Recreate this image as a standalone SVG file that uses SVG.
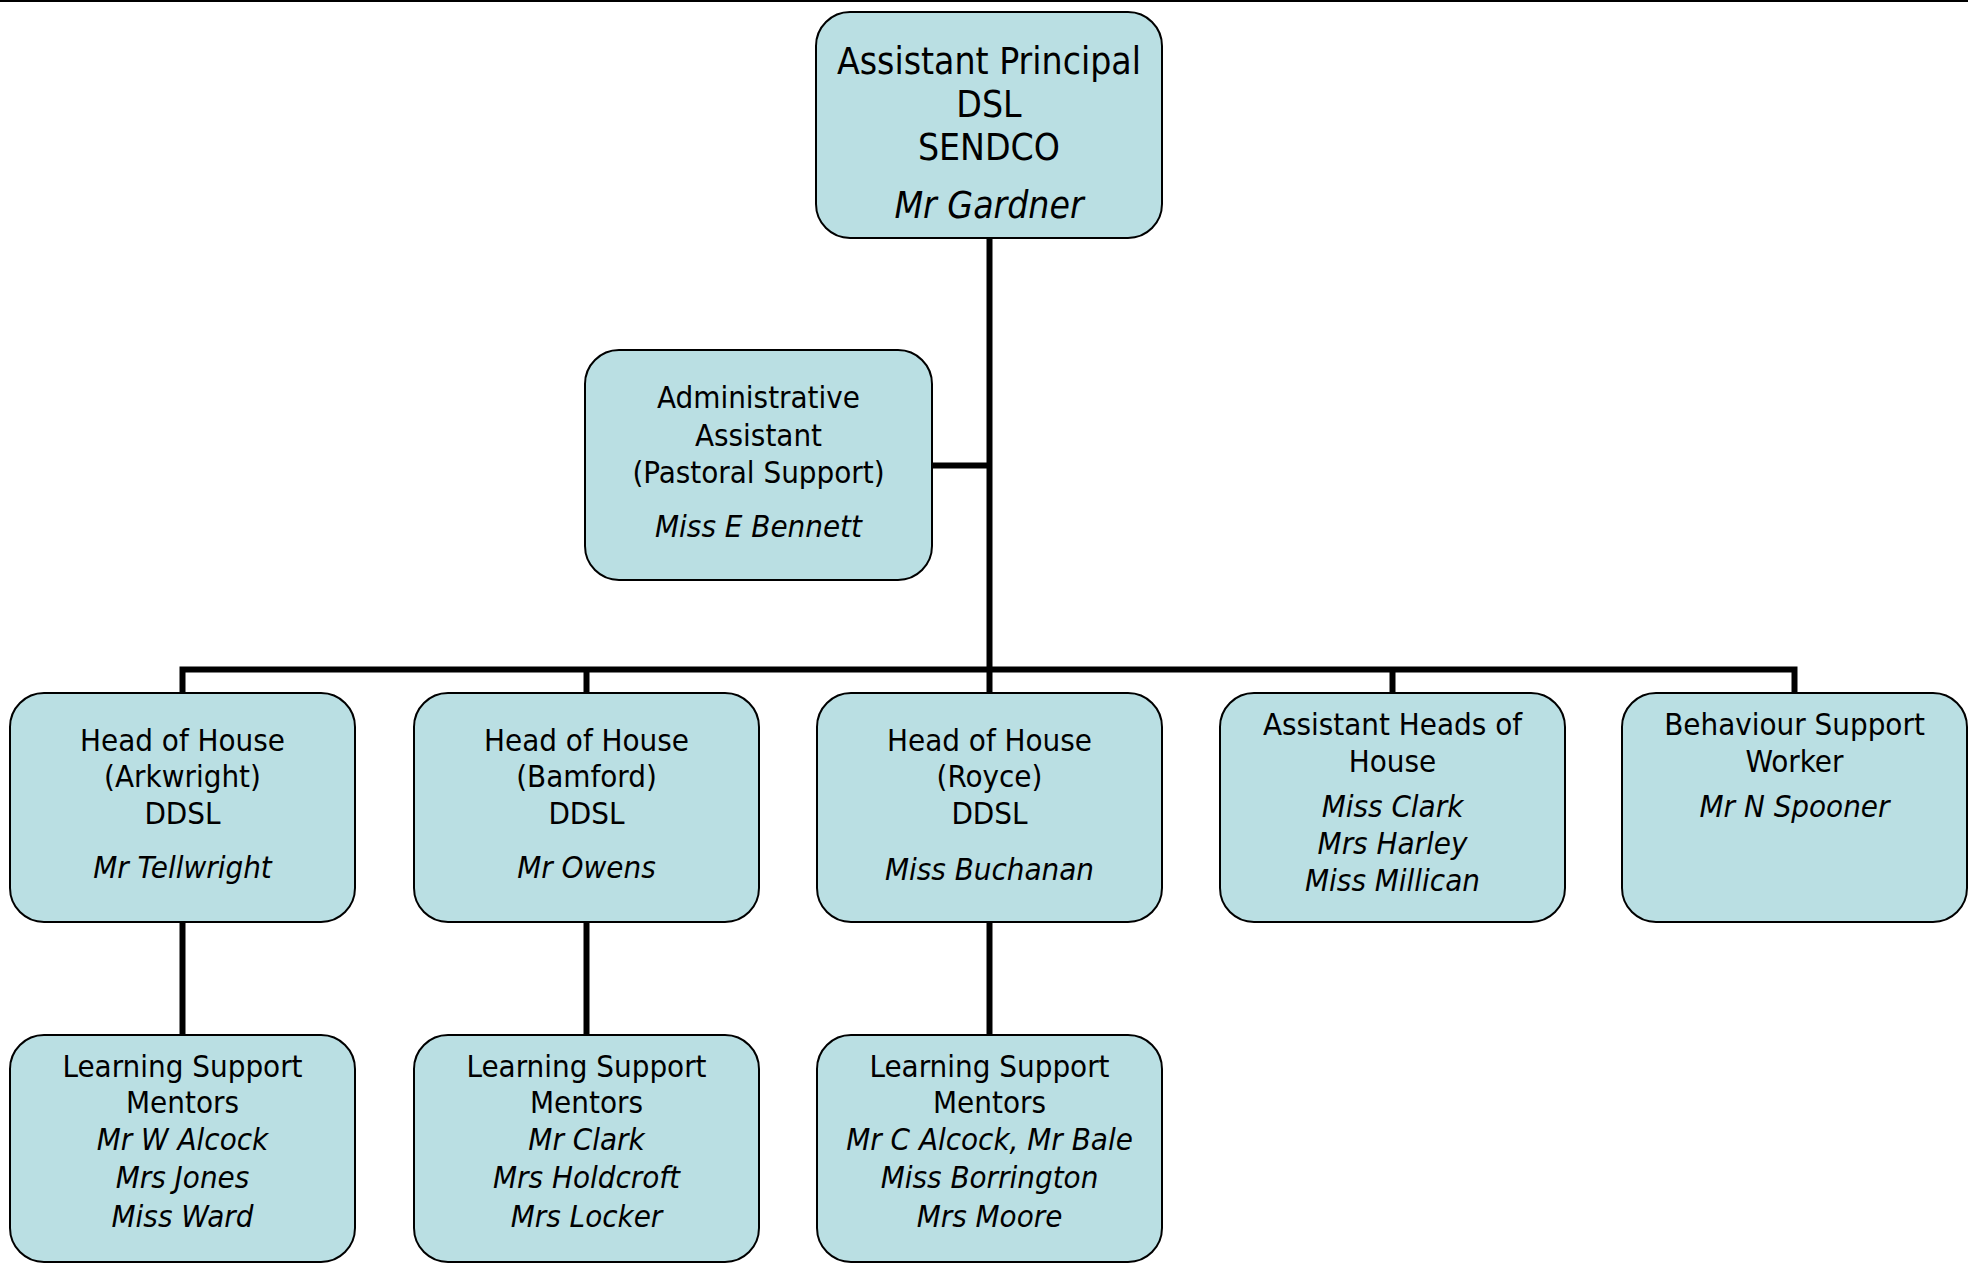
<svg xmlns="http://www.w3.org/2000/svg" width="1968" height="1263" viewBox="0 0 1968 1263">
<style>
.box{fill:#BADFE3;stroke:#000;stroke-width:2}
.t{font-family:"DejaVu Sans Condensed","DejaVu Sans",sans-serif;font-size:31px;text-anchor:middle;fill:#000}
.big{font-size:37px}
.i{font-style:italic}
.conn{stroke:#000;stroke-width:6;fill:none;stroke-linejoin:miter}
</style>
<rect x="0" y="0" width="1968" height="1263" fill="#fff"/>
<rect x="0" y="0" width="1968" height="2" fill="#000"/>
<g id="connectors">
<path class="conn" d="M989.5 238 V693"/>
<path class="conn" d="M932 465.5 H989.5"/>
<path class="conn" d="M182.5 693 V669.5 H1794.5 V693"/>
<path class="conn" d="M586.5 669.5 V693"/>
<path class="conn" d="M1392.5 669.5 V693"/>
<path class="conn" d="M182.5 922 V1035"/>
<path class="conn" d="M586.5 922 V1035"/>
<path class="conn" d="M989.5 922 V1035"/>
</g>
<g id="node-assistant-principal">
<rect class="box" x="816" y="12" width="346" height="226" rx="34"/>
<text class="t big" x="989" y="74">Assistant Principal</text>
<text class="t big" x="989" y="117">DSL</text>
<text class="t big" x="989" y="160">SENDCO</text>
<text class="t big i" x="989" y="218">Mr Gardner</text>
</g>
<g id="node-admin-assistant">
<rect class="box" x="585" y="350" width="347" height="230" rx="34"/>
<text class="t" x="758.5" y="408">Administrative</text>
<text class="t" x="758.5" y="446">Assistant</text>
<text class="t" x="758.5" y="483">(Pastoral Support)</text>
<text class="t i" x="758.5" y="537">Miss E Bennett</text>
</g>
<g id="node-hoh-arkwright">
<rect class="box" x="10" y="693" width="345" height="229" rx="34"/>
<text class="t" x="182.5" y="751">Head of House</text>
<text class="t" x="182.5" y="787">(Arkwright)</text>
<text class="t" x="182.5" y="824">DDSL</text>
<text class="t i" x="182.5" y="878">Mr Tellwright</text>
</g>
<g id="node-hoh-bamford">
<rect class="box" x="414" y="693" width="345" height="229" rx="34"/>
<text class="t" x="586.5" y="751">Head of House</text>
<text class="t" x="586.5" y="787">(Bamford)</text>
<text class="t" x="586.5" y="824">DDSL</text>
<text class="t i" x="586.5" y="878">Mr Owens</text>
</g>
<g id="node-hoh-royce">
<rect class="box" x="817" y="693" width="345" height="229" rx="34"/>
<text class="t" x="989.5" y="751">Head of House</text>
<text class="t" x="989.5" y="787">(Royce)</text>
<text class="t" x="989.5" y="824">DDSL</text>
<text class="t i" x="989.5" y="880">Miss Buchanan</text>
</g>
<g id="node-assistant-heads">
<rect class="box" x="1220" y="693" width="345" height="229" rx="34"/>
<text class="t" x="1392.5" y="735">Assistant Heads of</text>
<text class="t" x="1392.5" y="772">House</text>
<text class="t i" x="1392.5" y="817">Miss Clark</text>
<text class="t i" x="1392.5" y="854">Mrs Harley</text>
<text class="t i" x="1392.5" y="891">Miss Millican</text>
</g>
<g id="node-behaviour-support">
<rect class="box" x="1622" y="693" width="345" height="229" rx="34"/>
<text class="t" x="1794.5" y="735">Behaviour Support</text>
<text class="t" x="1794.5" y="772">Worker</text>
<text class="t i" x="1794.5" y="817">Mr N Spooner</text>
</g>
<g id="node-lsm-arkwright">
<rect class="box" x="10" y="1035" width="345" height="227" rx="34"/>
<text class="t" x="182.5" y="1077">Learning Support</text>
<text class="t" x="182.5" y="1113">Mentors</text>
<text class="t i" x="182.5" y="1150">Mr W Alcock</text>
<text class="t i" x="182.5" y="1188">Mrs Jones</text>
<text class="t i" x="182.5" y="1227">Miss Ward</text>
</g>
<g id="node-lsm-bamford">
<rect class="box" x="414" y="1035" width="345" height="227" rx="34"/>
<text class="t" x="586.5" y="1077">Learning Support</text>
<text class="t" x="586.5" y="1113">Mentors</text>
<text class="t i" x="586.5" y="1150">Mr Clark</text>
<text class="t i" x="586.5" y="1188">Mrs Holdcroft</text>
<text class="t i" x="586.5" y="1227">Mrs Locker</text>
</g>
<g id="node-lsm-royce">
<rect class="box" x="817" y="1035" width="345" height="227" rx="34"/>
<text class="t" x="989.5" y="1077">Learning Support</text>
<text class="t" x="989.5" y="1113">Mentors</text>
<text class="t i" x="989.5" y="1150">Mr C Alcock, Mr Bale</text>
<text class="t i" x="989.5" y="1188">Miss Borrington</text>
<text class="t i" x="989.5" y="1227">Mrs Moore</text>
</g>
</svg>
